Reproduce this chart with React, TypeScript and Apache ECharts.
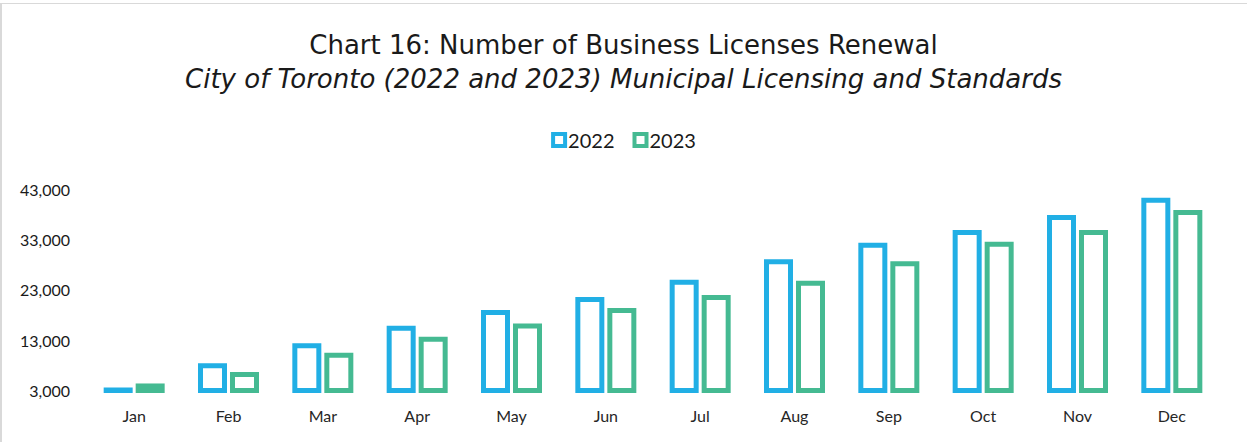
import React, { useEffect, useRef } from "react";
import * as echarts from "echarts";

const months = ["Jan", "Feb", "Mar", "Apr", "May", "Jun", "Jul", "Aug", "Sep", "Oct", "Nov", "Dec"];
const values2022 = [3100, 7900, 11900, 15400, 18500, 21100, 24500, 28600, 31900, 34400, 37400, 40800];
const values2023 = [3900, 6200, 10000, 13200, 15800, 18900, 21500, 24300, 28200, 32100, 34400, 38400];
const yTicks = { min: 3000, max: 43000, interval: 10000 };
const titleMain = "Chart 16: Number of Business Licenses Renewal";
const titleSub = "City of Toronto (2022 and 2023) Municipal Licensing and Standards";

const BLUE = "#21afe5";
const GREEN = "#45ba92";
const FONT = "Lato";
const TFONT = "DejaVu Sans";
const BAR_W = 24;
const BORDER = 5;

function makeSeries(name: string, values: number[], color: string, offset: number) {
  return {
    name,
    type: "custom",
    encode: { x: 0, y: 1 },
    data: values.map((v, i) => [i, v]),
    itemStyle: { color: "#ffffff", borderColor: color, borderWidth: BORDER },
    renderItem: (_params: any, api: any) => {
      const cat = api.value(0);
      const v = api.value(1);
      const top = api.coord([cat, v]);
      const base = api.coord([cat, yTicks.min]);
      return {
        type: "rect",
        shape: { x: top[0] + offset - BAR_W / 2, y: top[1], width: BAR_W, height: base[1] - top[1] },
        style: { fill: "#ffffff", stroke: color, lineWidth: BORDER },
      };
    },
  };
}

export default function App() {
  const ref = useRef<HTMLDivElement>(null);
  useEffect(() => {
    if (!ref.current) return;
    const chart = echarts.init(ref.current, null, { renderer: "svg" });
    chart.setOption({
      animation: false,
      backgroundColor: "#ffffff",
      textStyle: { fontFamily: FONT },
      title: [
        {
          text: titleMain,
          left: "center",
          top: 27,
          textStyle: { fontFamily: TFONT, fontSize: 26, fontWeight: "normal", color: "#1a1a1a" },
        },
        {
          text: titleSub,
          left: "center",
          top: 61,
          textStyle: { fontFamily: TFONT, fontSize: 26, fontWeight: "normal", fontStyle: "italic", color: "#1a1a1a" },
        },
      ],
      legend: {
        top: 125,
        left: "center",
        itemWidth: 12,
        itemHeight: 12,
        itemGap: 18,
        icon: "rect",
        textStyle: { fontFamily: FONT, fontSize: 20, color: "#1a1a1a", padding: [0, 0, 0, -2] },
        data: [
          { name: "2022", itemStyle: { color: "#ffffff", borderColor: BLUE, borderWidth: 4 } },
          { name: "2023", itemStyle: { color: "#ffffff", borderColor: GREEN, borderWidth: 4 } },
        ],
      },
      grid: { left: 87, width: 1132, top: 189.3, height: 201.2, containLabel: false },
      xAxis: {
        type: "category",
        data: months,
        axisLine: { show: false },
        axisTick: { show: false },
        axisLabel: { fontFamily: FONT, fontSize: 16, color: "#262626", margin: 17 },
      },
      yAxis: {
        type: "value",
        min: yTicks.min,
        max: yTicks.max,
        interval: yTicks.interval,
        splitLine: { show: false },
        axisLine: { show: false },
        axisTick: { show: false },
        axisLabel: {
          fontFamily: FONT,
          fontSize: 16,
          color: "#1a1a1a",
          margin: 17,
          formatter: (v: number) => v.toLocaleString("en-US"),
        },
      },
      graphic: [
        { type: "rect", shape: { x: 0, y: 3, width: 1247, height: 1 }, style: { fill: "#d9d9d9" }, silent: true },
        { type: "rect", shape: { x: 0, y: 3, width: 2, height: 439 }, style: { fill: "#d9d9d9" }, silent: true },
      ],
      series: [
        makeSeries("2022", values2022, BLUE, -16),
        makeSeries("2023", values2023, GREEN, 16),
      ],
    });
    return () => chart.dispose();
  }, []);
  return (
    <div
      ref={ref}
      style={{ position: "absolute", left: 0, top: 0, width: 1247, height: 442 }}
    />
  );
}
